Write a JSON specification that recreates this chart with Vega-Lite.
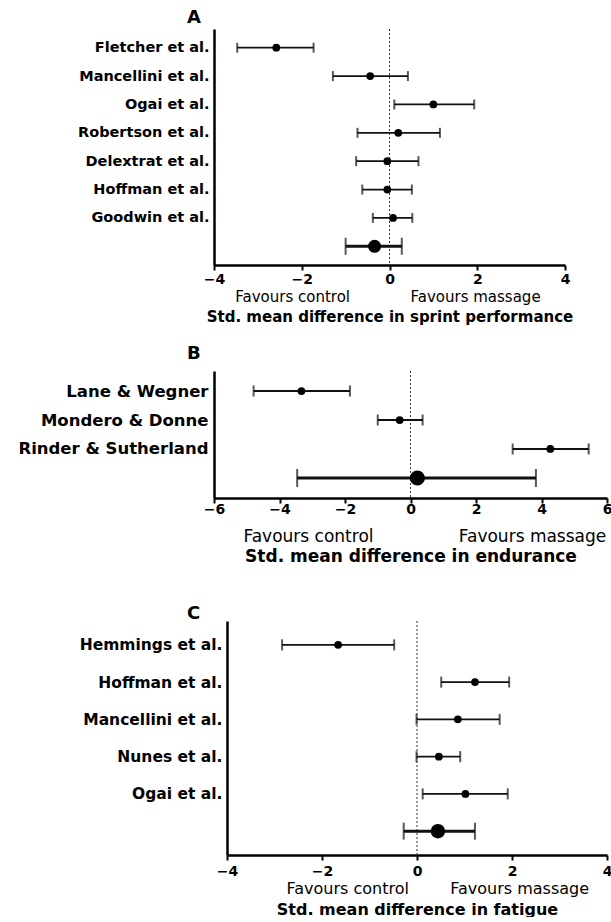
{
  "$schema": "https://vega.github.io/schema/vega-lite/v6.json",
  "padding": {"left": 17, "top": 8, "right": 0, "bottom": 0},
  "datasets": {
    "A": [
      {"study": "Fletcher et al.", "order": 1, "est": -2.58, "lo": -3.47, "hi": -1.73, "pooled": false},
      {"study": "Mancellini et al.", "order": 2, "est": -0.44, "lo": -1.29, "hi": 0.42, "pooled": false},
      {"study": "Ogai et al.", "order": 3, "est": 1.0, "lo": 0.11, "hi": 1.93, "pooled": false},
      {"study": "Robertson et al.", "order": 4, "est": 0.2, "lo": -0.73, "hi": 1.15, "pooled": false},
      {"study": "Delextrat et al.", "order": 5, "est": -0.05, "lo": -0.76, "hi": 0.66, "pooled": false},
      {"study": "Hoffman et al.", "order": 6, "est": -0.05, "lo": -0.62, "hi": 0.51, "pooled": false},
      {"study": "Goodwin et al.", "order": 7, "est": 0.08, "lo": -0.38, "hi": 0.52, "pooled": false},
      {"study": "Pooled", "order": 8, "est": -0.34, "lo": -1.0, "hi": 0.28, "pooled": true}
    ],
    "B": [
      {"study": "Lane & Wegner", "order": 1, "est": -3.33, "lo": -4.79, "hi": -1.85, "pooled": false},
      {"study": "Mondero & Donne", "order": 2, "est": -0.33, "lo": -1.0, "hi": 0.37, "pooled": false},
      {"study": "Rinder & Sutherland", "order": 3, "est": 4.27, "lo": 3.12, "hi": 5.44, "pooled": false},
      {"study": "Pooled", "order": 4, "est": 0.21, "lo": -3.46, "hi": 3.83, "pooled": true}
    ],
    "C": [
      {"study": "Hemmings et al.", "order": 1, "est": -1.66, "lo": -2.84, "hi": -0.48, "pooled": false},
      {"study": "Hoffman et al.", "order": 2, "est": 1.22, "lo": 0.51, "hi": 1.94, "pooled": false},
      {"study": "Mancellini et al.", "order": 3, "est": 0.86, "lo": -0.01, "hi": 1.74, "pooled": false},
      {"study": "Nunes et al.", "order": 4, "est": 0.46, "lo": -0.01, "hi": 0.91, "pooled": false},
      {"study": "Ogai et al.", "order": 5, "est": 1.02, "lo": 0.12, "hi": 1.91, "pooled": false},
      {"study": "Pooled", "order": 6, "est": 0.44, "lo": -0.28, "hi": 1.22, "pooled": true}
    ]
  },
  "spacing": 20,
  "vconcat": [
    {
      "data": {"name": "A"},
      "width": 351,
      "height": 236,
      "title": {"text": "A", "anchor": "start", "frame": "group", "dx": -27, "fontSize": 18, "font": "DejaVu Sans", "fontWeight": "bold", "offset": 2, "color": "black"},
      "layer": [
        {
          "data": {"values": [{}]},
          "mark": {"type": "rule", "strokeDash": [2, 2], "color": "#333", "strokeWidth": 1},
          "encoding": {"x": {"datum": 0, "type": "quantitative", "scale": {"domain": [-4, 4], "nice": false, "zero": false},
            "axis": {"values": [-4, -2, 0, 2, 4], "title": null, "labelPadding": 2, "labelFontSize": 14, "orient": "bottom"}}}
        },
        {
          "encoding": {
            "y": {"field": "study", "type": "nominal", "sort": {"field": "order"}, "scale": {"type": "point", "padding": 0.66},
              "axis": {"title": null, "ticks": false, "labelFontSize": 14.5, "labelPadding": 5, "labelLimit": 0, "labelExpr": "datum.label == 'Pooled' ? '' : datum.label"}}
          },
          "layer": [
            {
              "mark": {"type": "rule", "color": "#111"},
              "encoding": {
                "x": {"field": "lo", "type": "quantitative", "scale": {"domain": [-4, 4], "nice": false, "zero": false},
                  "axis": {"orient": "bottom", "values": [-2.22, 1.95], "labelExpr": "datum.value < 0 ? 'Favours control' : 'Favours massage'", "domain": false, "ticks": false, "tickSize": 0, "offset": 22, "labelPadding": 2, "labelFontSize": 15, "labelFontWeight": "normal", "title": "Std. mean difference in sprint performance", "titleFontSize": 15, "titlePadding": 5}},
                "x2": {"field": "hi"},
                "strokeWidth": {"condition": {"test": "datum.pooled", "value": 3}, "value": 1.8}
              }
            },
            {
              "mark": {"type": "tick", "color": "#111", "thickness": 2},
              "encoding": {
                "x": {"field": "lo", "type": "quantitative", "scale": {"domain": [-4, 4], "nice": false, "zero": false},
                  "axis": {"orient": "bottom", "values": [-2.22, 1.95], "labelExpr": "datum.value < 0 ? 'Favours control' : 'Favours massage'", "domain": false, "ticks": false, "tickSize": 0, "offset": 22, "labelPadding": 2, "labelFontSize": 15, "labelFontWeight": "normal", "title": "Std. mean difference in sprint performance", "titleFontSize": 15, "titlePadding": 5}},
                "size": {"condition": {"test": "datum.pooled", "value": 17}, "value": 10}
              }
            },
            {
              "mark": {"type": "tick", "color": "#111", "thickness": 2},
              "encoding": {
                "x": {"field": "hi", "type": "quantitative", "scale": {"domain": [-4, 4], "nice": false, "zero": false},
                  "axis": {"orient": "bottom", "values": [-2.22, 1.95], "labelExpr": "datum.value < 0 ? 'Favours control' : 'Favours massage'", "domain": false, "ticks": false, "tickSize": 0, "offset": 22, "labelPadding": 2, "labelFontSize": 15, "labelFontWeight": "normal", "title": "Std. mean difference in sprint performance", "titleFontSize": 15, "titlePadding": 5}},
                "size": {"condition": {"test": "datum.pooled", "value": 17}, "value": 10}
              }
            },
            {
              "mark": {"type": "circle", "color": "black", "opacity": 1},
              "encoding": {
                "x": {"field": "est", "type": "quantitative", "scale": {"domain": [-4, 4], "nice": false, "zero": false},
                  "axis": {"orient": "bottom", "values": [-2.22, 1.95], "labelExpr": "datum.value < 0 ? 'Favours control' : 'Favours massage'", "domain": false, "ticks": false, "tickSize": 0, "offset": 22, "labelPadding": 2, "labelFontSize": 15, "labelFontWeight": "normal", "title": "Std. mean difference in sprint performance", "titleFontSize": 15, "titlePadding": 5}},
                "size": {"condition": {"test": "datum.pooled", "value": 170}, "value": 60}
              }
            }
          ]
        }
      ],
      "resolve": {"axis": {"x": "independent"}}
    },
    {
      "data": {"name": "B"},
      "width": 393,
      "height": 127,
      "title": {"text": "B", "anchor": "start", "frame": "group", "dx": -27, "fontSize": 18, "font": "DejaVu Sans", "fontWeight": "bold", "offset": 8, "color": "black"},
      "layer": [
        {
          "data": {"values": [{}]},
          "mark": {"type": "rule", "strokeDash": [2, 2], "color": "#333", "strokeWidth": 1},
          "encoding": {"x": {"datum": 0, "type": "quantitative", "scale": {"domain": [-6, 6], "nice": false, "zero": false},
            "axis": {"values": [-6, -4, -2, 0, 2, 4, 6], "title": null, "labelPadding": -1, "labelFontSize": 14, "orient": "bottom"}}}
        },
        {
          "encoding": {
            "y": {"field": "study", "type": "nominal", "sort": {"field": "order"}, "scale": {"type": "point", "padding": 0.69},
              "axis": {"title": null, "ticks": false, "labelFontSize": 16.5, "labelPadding": 6, "labelLimit": 0, "labelExpr": "datum.label == 'Pooled' ? '' : datum.label"}}
          },
          "layer": [
            {
              "mark": {"type": "rule", "color": "#111"},
              "encoding": {
                "x": {"field": "lo", "type": "quantitative", "scale": {"domain": [-6, 6], "nice": false, "zero": false},
                  "axis": {"orient": "bottom", "values": [-3.13, 3.71], "labelExpr": "datum.value < 0 ? 'Favours control' : 'Favours massage'", "domain": false, "ticks": false, "tickSize": 0, "offset": 28, "labelPadding": 2, "labelFontSize": 17, "labelFontWeight": "normal", "title": "Std. mean difference in endurance", "titleFontSize": 17, "titlePadding": 4}},
                "x2": {"field": "hi"},
                "strokeWidth": {"condition": {"test": "datum.pooled", "value": 3}, "value": 1.8}
              }
            },
            {
              "mark": {"type": "tick", "color": "#111", "thickness": 2},
              "encoding": {
                "x": {"field": "lo", "type": "quantitative", "scale": {"domain": [-6, 6], "nice": false, "zero": false},
                  "axis": {"orient": "bottom", "values": [-3.13, 3.71], "labelExpr": "datum.value < 0 ? 'Favours control' : 'Favours massage'", "domain": false, "ticks": false, "tickSize": 0, "offset": 28, "labelPadding": 2, "labelFontSize": 17, "labelFontWeight": "normal", "title": "Std. mean difference in endurance", "titleFontSize": 17, "titlePadding": 4}},
                "size": {"condition": {"test": "datum.pooled", "value": 18}, "value": 11}
              }
            },
            {
              "mark": {"type": "tick", "color": "#111", "thickness": 2},
              "encoding": {
                "x": {"field": "hi", "type": "quantitative", "scale": {"domain": [-6, 6], "nice": false, "zero": false},
                  "axis": {"orient": "bottom", "values": [-3.13, 3.71], "labelExpr": "datum.value < 0 ? 'Favours control' : 'Favours massage'", "domain": false, "ticks": false, "tickSize": 0, "offset": 28, "labelPadding": 2, "labelFontSize": 17, "labelFontWeight": "normal", "title": "Std. mean difference in endurance", "titleFontSize": 17, "titlePadding": 4}},
                "size": {"condition": {"test": "datum.pooled", "value": 18}, "value": 11}
              }
            },
            {
              "mark": {"type": "circle", "color": "black", "opacity": 1},
              "encoding": {
                "x": {"field": "est", "type": "quantitative", "scale": {"domain": [-6, 6], "nice": false, "zero": false},
                  "axis": {"orient": "bottom", "values": [-3.13, 3.71], "labelExpr": "datum.value < 0 ? 'Favours control' : 'Favours massage'", "domain": false, "ticks": false, "tickSize": 0, "offset": 28, "labelPadding": 2, "labelFontSize": 17, "labelFontWeight": "normal", "title": "Std. mean difference in endurance", "titleFontSize": 17, "titlePadding": 4}},
                "size": {"condition": {"test": "datum.pooled", "value": 230}, "value": 60}
              }
            }
          ]
        }
      ],
      "resolve": {"axis": {"x": "independent"}}
    },
    {
      "data": {"name": "C"},
      "width": 393,
      "height": 234,
      "title": {"text": [" ", "C"], "anchor": "start", "frame": "group", "dx": -27, "fontSize": 18, "font": "DejaVu Sans", "fontWeight": "bold", "offset": -2, "color": "black"},
      "layer": [
        {
          "data": {"values": [{}]},
          "mark": {"type": "rule", "strokeDash": [2, 2], "color": "#333", "strokeWidth": 1},
          "encoding": {"x": {"datum": 0, "type": "quantitative", "scale": {"domain": [-4, 4], "nice": false, "zero": false, "range": [13, 393]},
            "axis": {"values": [-4, -2, 0, 2, 4], "title": null, "labelPadding": 4, "labelFontSize": 14, "orient": "bottom"}}}
        },
        {
          "encoding": {
            "y": {"field": "study", "type": "nominal", "sort": {"field": "order"}, "scale": {"type": "point", "padding": 0.64},
              "axis": {"title": null, "ticks": false, "offset": -13, "labelFontSize": 15.5, "labelPadding": 5, "labelLimit": 0, "labelExpr": "datum.label == 'Pooled' ? '' : datum.label"}}
          },
          "layer": [
            {
              "mark": {"type": "rule", "color": "#111"},
              "encoding": {
                "x": {"field": "lo", "type": "quantitative", "scale": {"domain": [-4, 4], "nice": false, "zero": false, "range": [13, 393]},
                  "axis": {"orient": "bottom", "values": [-1.47, 2.15], "labelExpr": "datum.value < 0 ? 'Favours control' : 'Favours massage'", "domain": false, "ticks": false, "tickSize": 0, "offset": 23, "labelPadding": 2, "labelFontSize": 16, "labelFontWeight": "normal", "title": "Std. mean difference in fatigue", "titleFontSize": 16, "titlePadding": 5}},
                "x2": {"field": "hi"},
                "strokeWidth": {"condition": {"test": "datum.pooled", "value": 3}, "value": 1.8}
              }
            },
            {
              "mark": {"type": "tick", "color": "#111", "thickness": 2},
              "encoding": {
                "x": {"field": "lo", "type": "quantitative", "scale": {"domain": [-4, 4], "nice": false, "zero": false, "range": [13, 393]},
                  "axis": {"orient": "bottom", "values": [-1.47, 2.15], "labelExpr": "datum.value < 0 ? 'Favours control' : 'Favours massage'", "domain": false, "ticks": false, "tickSize": 0, "offset": 23, "labelPadding": 2, "labelFontSize": 16, "labelFontWeight": "normal", "title": "Std. mean difference in fatigue", "titleFontSize": 16, "titlePadding": 5}},
                "size": {"condition": {"test": "datum.pooled", "value": 17}, "value": 11}
              }
            },
            {
              "mark": {"type": "tick", "color": "#111", "thickness": 2},
              "encoding": {
                "x": {"field": "hi", "type": "quantitative", "scale": {"domain": [-4, 4], "nice": false, "zero": false, "range": [13, 393]},
                  "axis": {"orient": "bottom", "values": [-1.47, 2.15], "labelExpr": "datum.value < 0 ? 'Favours control' : 'Favours massage'", "domain": false, "ticks": false, "tickSize": 0, "offset": 23, "labelPadding": 2, "labelFontSize": 16, "labelFontWeight": "normal", "title": "Std. mean difference in fatigue", "titleFontSize": 16, "titlePadding": 5}},
                "size": {"condition": {"test": "datum.pooled", "value": 17}, "value": 11}
              }
            },
            {
              "mark": {"type": "circle", "color": "black", "opacity": 1},
              "encoding": {
                "x": {"field": "est", "type": "quantitative", "scale": {"domain": [-4, 4], "nice": false, "zero": false, "range": [13, 393]},
                  "axis": {"orient": "bottom", "values": [-1.47, 2.15], "labelExpr": "datum.value < 0 ? 'Favours control' : 'Favours massage'", "domain": false, "ticks": false, "tickSize": 0, "offset": 23, "labelPadding": 2, "labelFontSize": 16, "labelFontWeight": "normal", "title": "Std. mean difference in fatigue", "titleFontSize": 16, "titlePadding": 5}},
                "size": {"condition": {"test": "datum.pooled", "value": 210}, "value": 60}
              }
            }
          ]
        }
      ],
      "resolve": {"axis": {"x": "independent"}}
    }
  ],
  "config": {
    "font": "DejaVu Sans",
    "view": {"stroke": null},
    "axis": {"grid": false, "domainColor": "black", "domainWidth": 2.5, "tickColor": "black", "tickWidth": 2, "tickSize": 5, "labelColor": "black", "labelFont": "DejaVu Sans", "labelFontWeight": "bold", "titleFont": "DejaVu Sans", "titleFontWeight": "bold", "titleColor": "black", "labelFlush": false, "labelOverlap": false}
  }
}
